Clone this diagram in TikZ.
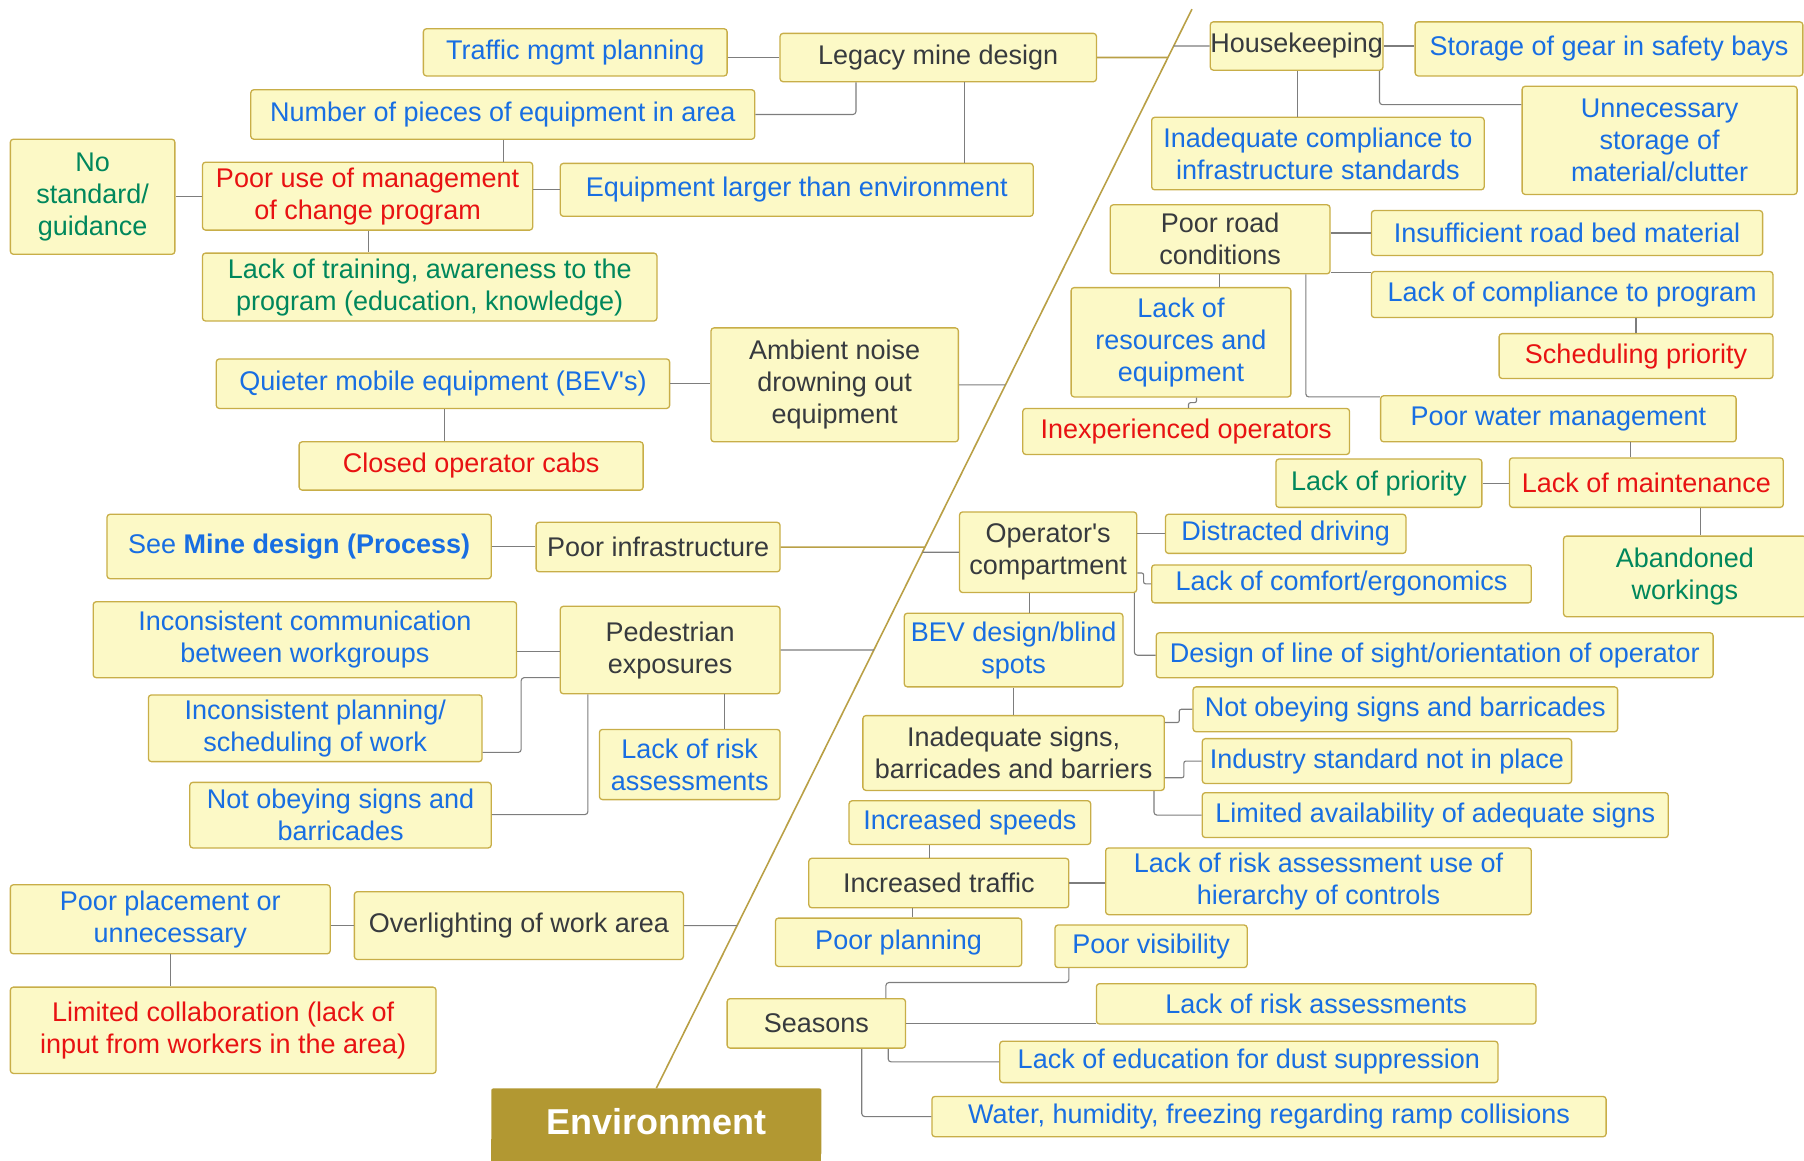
\documentclass[tikz,border=0pt]{standalone}
\usepackage{fontspec}
\setmainfont{Liberation Sans}
\usetikzlibrary{intersections,calc}
\definecolor{tblue}{RGB}{24,110,226}
\definecolor{tred}{RGB}{232,18,18}
\definecolor{tgreen}{RGB}{0,135,92}
\definecolor{tdark}{RGB}{55,58,62}
\definecolor{boxfill}{RGB}{252,249,198}
\definecolor{boxborder}{RGB}{200,174,72}
\definecolor{envfill}{RGB}{178,152,50}
\definecolor{spinegold}{RGB}{185,160,70}
\definecolor{conngray}{RGB}{125,125,125}
\tikzset{
  box/.style={draw=boxborder, fill=boxfill, line width=1.3pt, rounded corners=3pt,
    inner sep=0pt, align=center, font=\fontsize{27}{32}\selectfont},
  envbox/.style={fill=envfill, rounded corners=2pt, inner sep=0pt,
    text=white, font=\fontsize{36}{40}\selectfont\bfseries},
  conn/.style={draw=conngray, line width=1.1pt, rounded corners=3pt},
  goldline/.style={draw=spinegold, line width=1.6pt},
  grayline/.style={draw=conngray, line width=1.1pt},
}
\newcommand\bx[7]{\node[box, text=#6, minimum width={(#4-#2)*1.1505pt},
  minimum height={(#5-#3)*1.1505pt}] (#1) at ({(#2+#4)/2},{(#3+#5)/2}) {#7};}
\newcommand\tospine[3]{%
  \path[name path=hh] (#2) -- ++(#3*500,0);
  \draw[#1, name intersections={of=spine and hh}] (#2) -- (intersection-1);}
\begin{document}
\begin{tikzpicture}[x=1.1505pt, y=-1.1505pt]
\useasboundingbox (0,0) rectangle (1568,1009);
% ---------- left side ----------
\bx{traffic}{368}{25}{632}{66}{tblue}{Traffic mgmt planning}
\bx{legacy}{678}{29}{953}{71}{tdark}{Legacy mine design}
\bx{pieces}{218}{78}{656}{121}{tblue}{Number of pieces of equipment in area}
\bx{nostd}{9}{121}{152}{221}{tgreen}{No\\standard/\\guidance}
\bx{mgmt}{176}{141}{463}{200}{tred}{Poor use of management\\of change program}
\bx{larger}{487}{142}{898}{188}{tblue}{Equipment larger than environment}
\bx{training}{176}{220}{571}{279}{tgreen}{Lack of training, awareness to the\\program (education, knowledge)}
\bx{quieter}{188}{312}{582}{355}{tblue}{Quieter mobile equipment (BEV\textquotesingle s)}
\bx{noise}{618}{285}{833}{384}{tdark}{Ambient noise\\drowning out\\equipment}
\bx{cabs}{260}{384}{559}{426}{tred}{Closed operator cabs}
\bx{seemine}{93}{447}{427}{503}{tblue}{See \textbf{Mine design (Process)}}
\bx{infra}{466}{454}{678}{497}{tdark}{Poor infrastructure}
\bx{comm}{81}{523}{449}{589}{tblue}{Inconsistent communication\\between workgroups}
\bx{ped}{487}{527}{678}{603}{tdark}{Pedestrian\\exposures}
\bx{planL}{129}{604}{419}{662}{tblue}{Inconsistent planning/\\scheduling of work}
\bx{riskL}{521}{634}{678}{695}{tblue}{Lack of risk\\assessments}
\bx{obeyL}{165}{680}{427}{737}{tblue}{Not obeying signs and\\barricades}
\bx{placement}{9}{769}{287}{829}{tblue}{Poor placement or\\unnecessary}
\bx{overlight}{308}{775}{594}{834}{tdark}{Overlighting of work area}
\bx{collab}{9}{858}{379}{933}{tred}{Limited collaboration (lack of\\input from workers in the area)}
\fill[envfill] (427,990) rectangle (714,1012);
\node[envbox, minimum width={287*1.1505pt}, minimum height={58*1.1505pt}] (env) at (570.5,975) {Environment};
% ---------- right side ----------
\bx{house}{1054}{19}{1200}{61}{tdark}{Housekeeping}
\bx{gear}{1230}{19}{1567}{66}{tblue}{Storage of gear in safety bays}
\bx{compl}{1001}{102}{1290}{165}{tblue}{Inadequate compliance to\\infrastructure standards}
\bx{clutter}{1323}{75}{1562}{169}{tblue}{Unnecessary\\storage of\\material/clutter}
\bx{road}{965}{178}{1156}{238}{tdark}{Poor road\\conditions}
\bx{roadbed}{1192}{183}{1532}{222}{tblue}{Insufficient road bed material}
\bx{complprog}{1192}{236}{1541}{276}{tblue}{Lack of compliance to program}
\bx{resources}{931}{250}{1122}{345}{tblue}{Lack of\\resources and\\equipment}
\bx{sched}{1303}{290}{1541}{329}{tred}{Scheduling priority}
\bx{inexp}{889}{355}{1173}{395}{tred}{Inexperienced operators}
\bx{water}{1200}{344}{1509}{384}{tblue}{Poor water management}
\bx{lprio}{1109}{399}{1288}{441}{tgreen}{Lack of priority}
\bx{maint}{1312}{398}{1550}{441}{tred}{Lack of maintenance}
\bx{opcomp}{834}{445}{988}{515}{tdark}{Operator\textquotesingle s\\compartment}
\bx{distract}{1013}{447}{1222}{481}{tblue}{Distracted driving}
\bx{comfort}{1001}{491}{1331}{524}{tblue}{Lack of comfort/ergonomics}
\bx{aband}{1359}{466}{1570}{536}{tgreen}{Abandoned\\workings}
\bx{bev}{786}{533}{976}{597}{tblue}{BEV design/blind\\spots}
\bx{sight}{1005}{550}{1489}{589}{tblue}{Design of line of sight/orientation of operator}
\bx{obeyR}{1037}{597}{1406}{636}{tblue}{Not obeying signs and barricades}
\bx{signs}{750}{622}{1012}{687}{tdark}{Inadequate signs,\\barricades and barriers}
\bx{industry}{1045}{642}{1366}{681}{tblue}{Industry standard not in place}
\bx{limited}{1045}{689}{1450}{728}{tblue}{Limited availability of adequate signs}
\bx{speeds}{738}{696}{948}{734}{tblue}{Increased speeds}
\bx{inctraffic}{703}{746}{929}{789}{tdark}{Increased traffic}
\bx{hier}{961}{737}{1331}{795}{tblue}{Lack of risk assessment use of\\hierarchy of controls}
\bx{pplan}{674}{798}{888}{840}{tblue}{Poor planning}
\bx{vis}{917}{804}{1084}{841}{tblue}{Poor visibility}
\bx{seasons}{632}{868}{787}{911}{tdark}{Seasons}
\bx{riskR}{953}{855}{1335}{890}{tblue}{Lack of risk assessments}
\bx{dust}{869}{905}{1302}{941}{tblue}{Lack of education for dust suppression}
\bx{waterh}{810}{953}{1396}{988}{tblue}{Water, humidity, freezing regarding ramp collisions}
% ---------- spine ----------
\coordinate (sTop) at (1036,8);
\draw[goldline, name path=spine] (env.north) -- (sTop);
\tospine{goldline}{legacy.east}{1}
\tospine{goldline}{infra.east}{1}
\tospine{grayline}{noise.east}{1}
\tospine{grayline}{ped.east}{1}
\tospine{grayline}{overlight.east}{1}
\tospine{grayline}{house.west}{-1}
\tospine{grayline}{opcomp.west}{-1}
% ---------- left connectors ----------
\draw[conn] (traffic.east |- legacy.west) -- (legacy.west);
\draw[conn] (legacy.south -| 744,0) |- (pieces.east);
\draw[conn] (legacy.south -| 838,0) -- (larger.north -| 838,0);
\draw[conn] (pieces.south -| 438,0) -- (mgmt.north -| 438,0);
\draw[conn] (nostd.east) -- (mgmt.west |- nostd.east);
\draw[conn] (mgmt.east |- larger.west) -- (larger.west);
\draw[conn] (mgmt.south -| 320,0) -- (training.north -| 320,0);
\draw[conn] (quieter.east) -- (noise.west |- quieter.east);
\draw[conn] (quieter.south -| 386,0) -- (cabs.north -| 386,0);
\draw[conn] (seemine.east) -- (infra.west |- seemine.east);
\draw[conn] (comm.east |- 0,566) -- (ped.west |- 0,566);
\draw[conn] (ped.west |- 0,589) -| (453,654) -- (planL.east |- 0,654);
\draw[conn] (ped.south -| 511,0) |- (obeyL.east |- 0,708);
\draw[conn] (ped.south -| 630,0) -- (riskL.north -| 630,0);
\draw[conn] (placement.east |- overlight.west) -- (overlight.west);
\draw[conn] (placement.south -| 148,0) -- (collab.north -| 148,0);
% ---------- right connectors ----------
\draw[conn] (house.east) -- (gear.west |- house.east);
\draw[conn] (house.south -| 1128,0) -- (compl.north -| 1128,0);
\draw[conn] (house.south -| 1199,0) |- (clutter.west |- 0,91);
\draw[conn] (road.east |- roadbed.west) -- (roadbed.west);
\draw[conn] (road.east |- 0,237) -- (complprog.west |- 0,237);
\draw[conn] (road.south -| 1060,0) -- (resources.north -| 1060,0);
\draw[conn] (road.south -| 1135,0) |- (water.west |- 0,345);
\draw[conn] (complprog.south -| 1422,0) -- (sched.north -| 1422,0);
\draw[conn, rounded corners=2pt] (resources.south -| 1040,0) -- (1040,350) -- (1033,350) -- (inexp.north -| 1033,0);
\draw[conn] (water.south -| 1417,0) -- (maint.north -| 1417,0);
\draw[conn] (lprio.east) -- (maint.west |- lprio.east);
\draw[conn] (maint.south -| 1478,0) -- (aband.north -| 1478,0);
\draw[conn] (opcomp.east |- distract.west) -- (distract.west);
\draw[conn, rounded corners=2pt] (opcomp.east |- 0,498) -- (994,498) -- (994,507.5) -- (comfort.west);
\draw[conn] (opcomp.south -| 986,0) |- (sight.west);
\draw[conn] (opcomp.south -| 895,0) -- (bev.north -| 895,0);
\draw[conn] (bev.south -| 881,0) -- (signs.north -| 881,0);
\draw[conn, rounded corners=2pt] (signs.east |- 0,628) -- (1025,628) -- (1025,616.5) -- (obeyR.west);
\draw[conn, rounded corners=2pt] (signs.east |- 0,676) -- (1029,676) -- (1029,661.5) -- (industry.west);
\draw[conn] (signs.south -| 1003,0) |- (limited.west);
\draw[conn] (speeds.south -| 808,0) -- (inctraffic.north -| 808,0);
\draw[conn] (inctraffic.east) -- (hier.west |- inctraffic.east);
\draw[conn] (inctraffic.south -| 793,0) -- (pplan.north -| 793,0);
\draw[conn] (seasons.north -| 770,0) -- (770,854) -- (929,854) -- (vis.south -| 929,0);
\draw[conn] (seasons.east) -- (riskR.west |- seasons.east);
\draw[conn] (seasons.south -| 772,0) |- (dust.west);
\draw[conn] (seasons.south -| 749,0) |- (waterh.west);
\end{tikzpicture}
\end{document}
